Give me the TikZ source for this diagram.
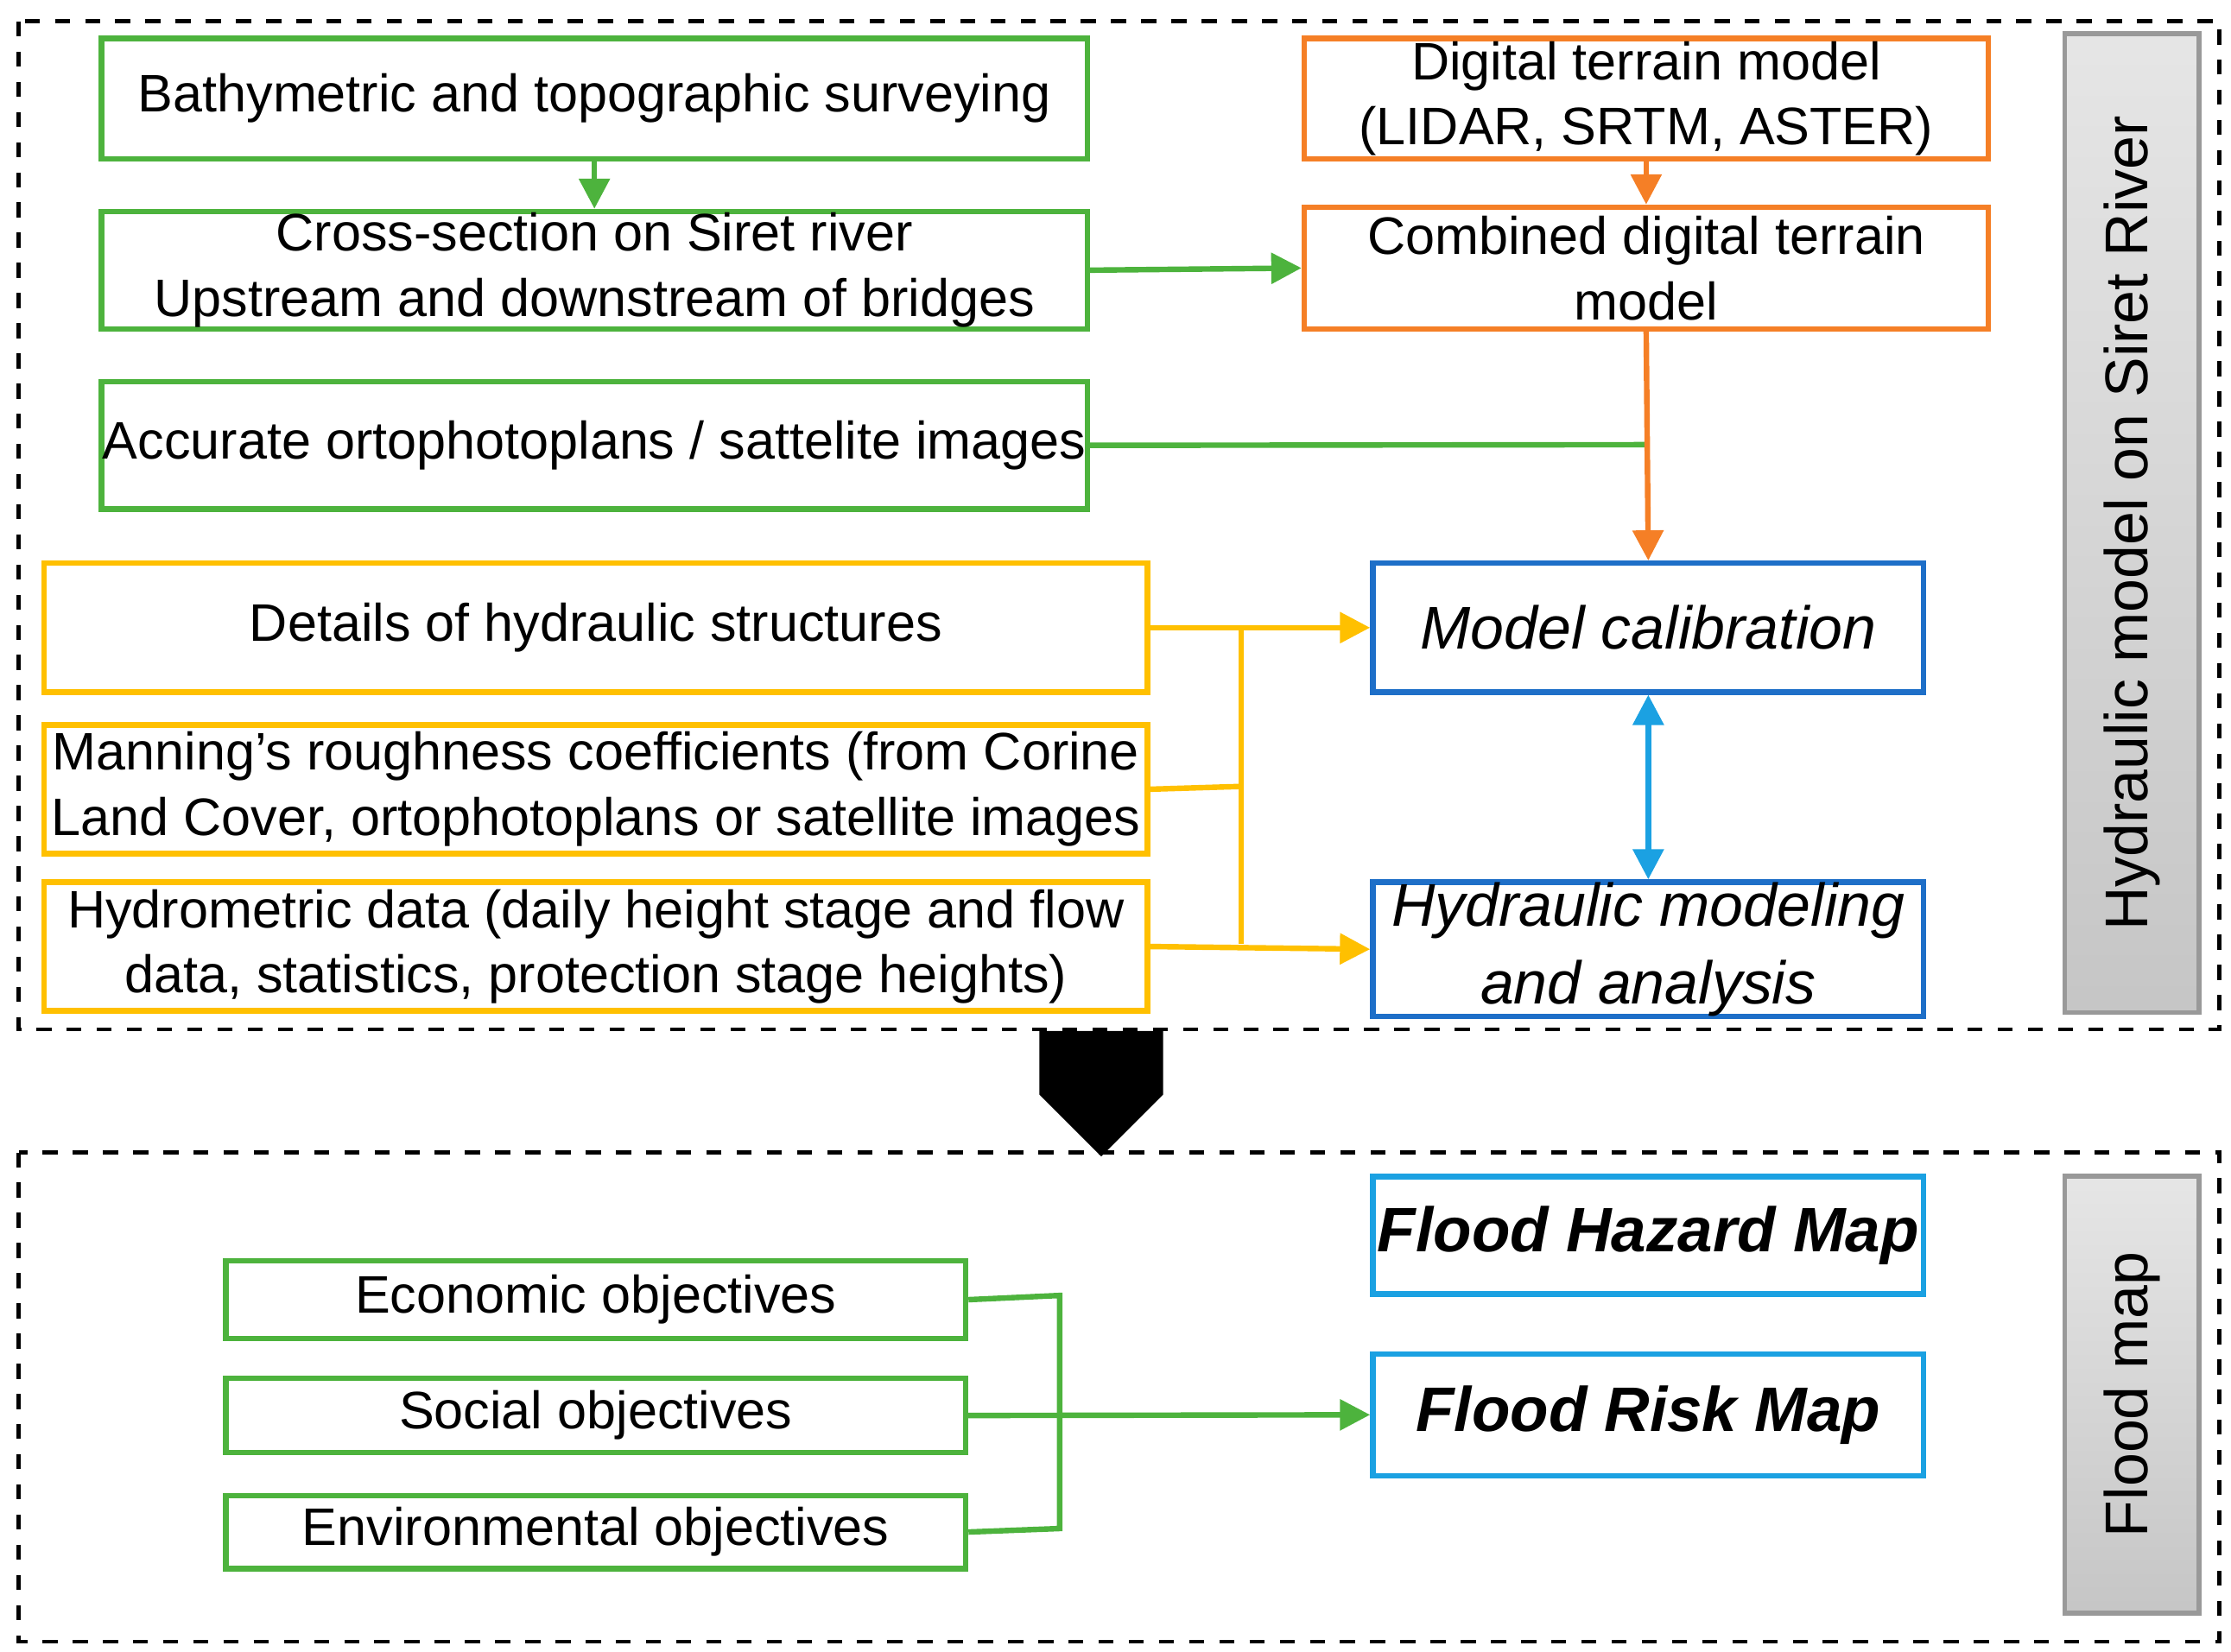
\documentclass[tikz,border=0pt]{standalone}
\usepackage{fontspec}
\setmainfont{Liberation Sans}
\usetikzlibrary{arrows.meta,shapes.arrows}
\definecolor{gr}{HTML}{4DB33D}
\definecolor{orr}{HTML}{F57F26}
\definecolor{ye}{HTML}{FFC000}
\definecolor{bl}{HTML}{1E6FC8}
\definecolor{lb}{HTML}{1BA1E2}
\begin{document}
\begin{tikzpicture}[x=0.01cm,y=-0.01cm,
  box/.style={draw,line width=1.1pt,anchor=north west,align=center,inner sep=0pt,font=\fontsize{10.5}{13}\selectfont},
  side/.style={draw=gray!80,line width=1pt,top color=gray!20,bottom color=gray!45,anchor=north west,inner sep=0pt},
  ar/.style={-{Triangle[length=6pt,width=6pt]},line width=1.1pt},
  ln/.style={line width=1.1pt}]
\useasboundingbox (0,0) rectangle (1560,1155);
\draw[dashed,line width=0.8pt] (13,15) rectangle (1552,720);
\draw[dashed,line width=0.8pt] (13,806) rectangle (1552,1148);
\node[side,minimum width=0.94cm,minimum height=6.84cm] (s1) at (1442,22) {};
\node[rotate=90,font=\fontsize{12}{14}\selectfont] at (s1.center) {Hydraulic model on Siret River};
\node[side,minimum width=0.94cm,minimum height=3.05cm] (s2) at (1442,821) {};
\node[rotate=90,font=\fontsize{12}{14}\selectfont] at (s2.center) {Flood map};
% green
\node[box,draw=gr,minimum width=6.89cm,minimum height=0.84cm] (b1) at (69,25) {Bathymetric and topographic surveying};
\node[box,draw=gr,minimum width=6.89cm,minimum height=0.82cm] (b2) at (69,146) {Cross-section on Siret river\\Upstream and downstream of bridges};
\node[box,draw=gr,minimum width=6.89cm,minimum height=0.89cm] (b3) at (69,265) {Accurate ortophotoplans / sattelite images};
% orange
\node[box,draw=orr,minimum width=4.78cm,minimum height=0.84cm] (o1) at (910,25) {Digital terrain model\\(LIDAR, SRTM, ASTER)};
\node[box,draw=orr,minimum width=4.78cm,minimum height=0.85cm] (o2) at (910,143) {Combined digital terrain\\model};
% yellow
\node[box,draw=ye,minimum width=7.71cm,minimum height=0.9cm] (y1) at (29,392) {Details of hydraulic structures};
\node[box,draw=ye,minimum width=7.71cm,minimum height=0.9cm] (y2) at (29,505) {Manning’s roughness coefficients (from Corine\\Land Cover, ortophotoplans or satellite images};
\node[box,draw=ye,minimum width=7.71cm,minimum height=0.9cm] (y3) at (29,615) {Hydrometric data (daily height stage and flow\\data, statistics, protection stage heights)};
% blue
\node[box,draw=bl,minimum width=3.85cm,minimum height=0.9cm,font=\fontsize{12}{15}\selectfont\itshape] (c1) at (958,392) {Model calibration};
\node[box,draw=bl,minimum width=3.85cm,minimum height=0.9cm,font=\fontsize{12}{15.5}\selectfont\itshape] (c2) at (958,615) {Hydraulic modeling\\and analysis};
% bottom
\node[box,draw=lb,minimum width=3.85cm,minimum height=0.82cm,font=\fontsize{12.5}{15}\selectfont\bfseries\itshape] (f1) at (958,821) {Flood Hazard Map};
\node[box,draw=lb,minimum width=3.85cm,minimum height=0.85cm,font=\fontsize{12.5}{15}\selectfont\bfseries\itshape] (f2) at (958,945) {Flood Risk Map};
\node[box,draw=gr,minimum width=5.17cm,minimum height=0.54cm] (e1) at (156,880) {Economic objectives};
\node[box,draw=gr,minimum width=5.17cm,minimum height=0.52cm] (e2) at (156,962) {Social objectives};
\node[box,draw=gr,minimum width=5.17cm,minimum height=0.51cm] (e3) at (156,1044) {Environmental objectives};
% connectors
\draw[ar,gr] (b1.south) -- (b2.north);
\draw[ar,gr] (b2.east) -- (o2.west);
\draw[ar,orr] (o1.south) -- (o2.north);
\coordinate (j) at (1150,311);
\draw[ln,gr] (b3.east) -- (j);
\draw[ar,orr] (o2.south) -- (c1.north);
\coordinate (yb1) at (868,437);
\coordinate (yb3) at (868,660);
\draw[ar,ye] (y1.east) -- (c1.west);
\draw[ar,ye] (y3.east) -- (c2.west);
\draw[ln,ye] (yb1) -- (yb3);
\draw[ln,ye] (y2.east) -- (868,550);
\draw[{Triangle[length=6pt,width=6pt]}-{Triangle[length=6pt,width=6pt]},line width=1.1pt,lb] (c1.south) -- (c2.north);
\coordinate (g1) at (741,906);
\coordinate (g3) at (741,1069);
\draw[ln,gr] (e1.east) -- (g1) -- (g3) -- (e3.east);
\draw[ar,gr] (e2.east) -- (f2.west);
\node[single arrow,fill=black,draw=black,shape border rotate=270,minimum width=0.85cm,single arrow head extend=0pt,single arrow tip angle=90,minimum height=0.86cm,inner sep=0pt,anchor=north] (ba) at (770,721) {};
\end{tikzpicture}
\end{document}
